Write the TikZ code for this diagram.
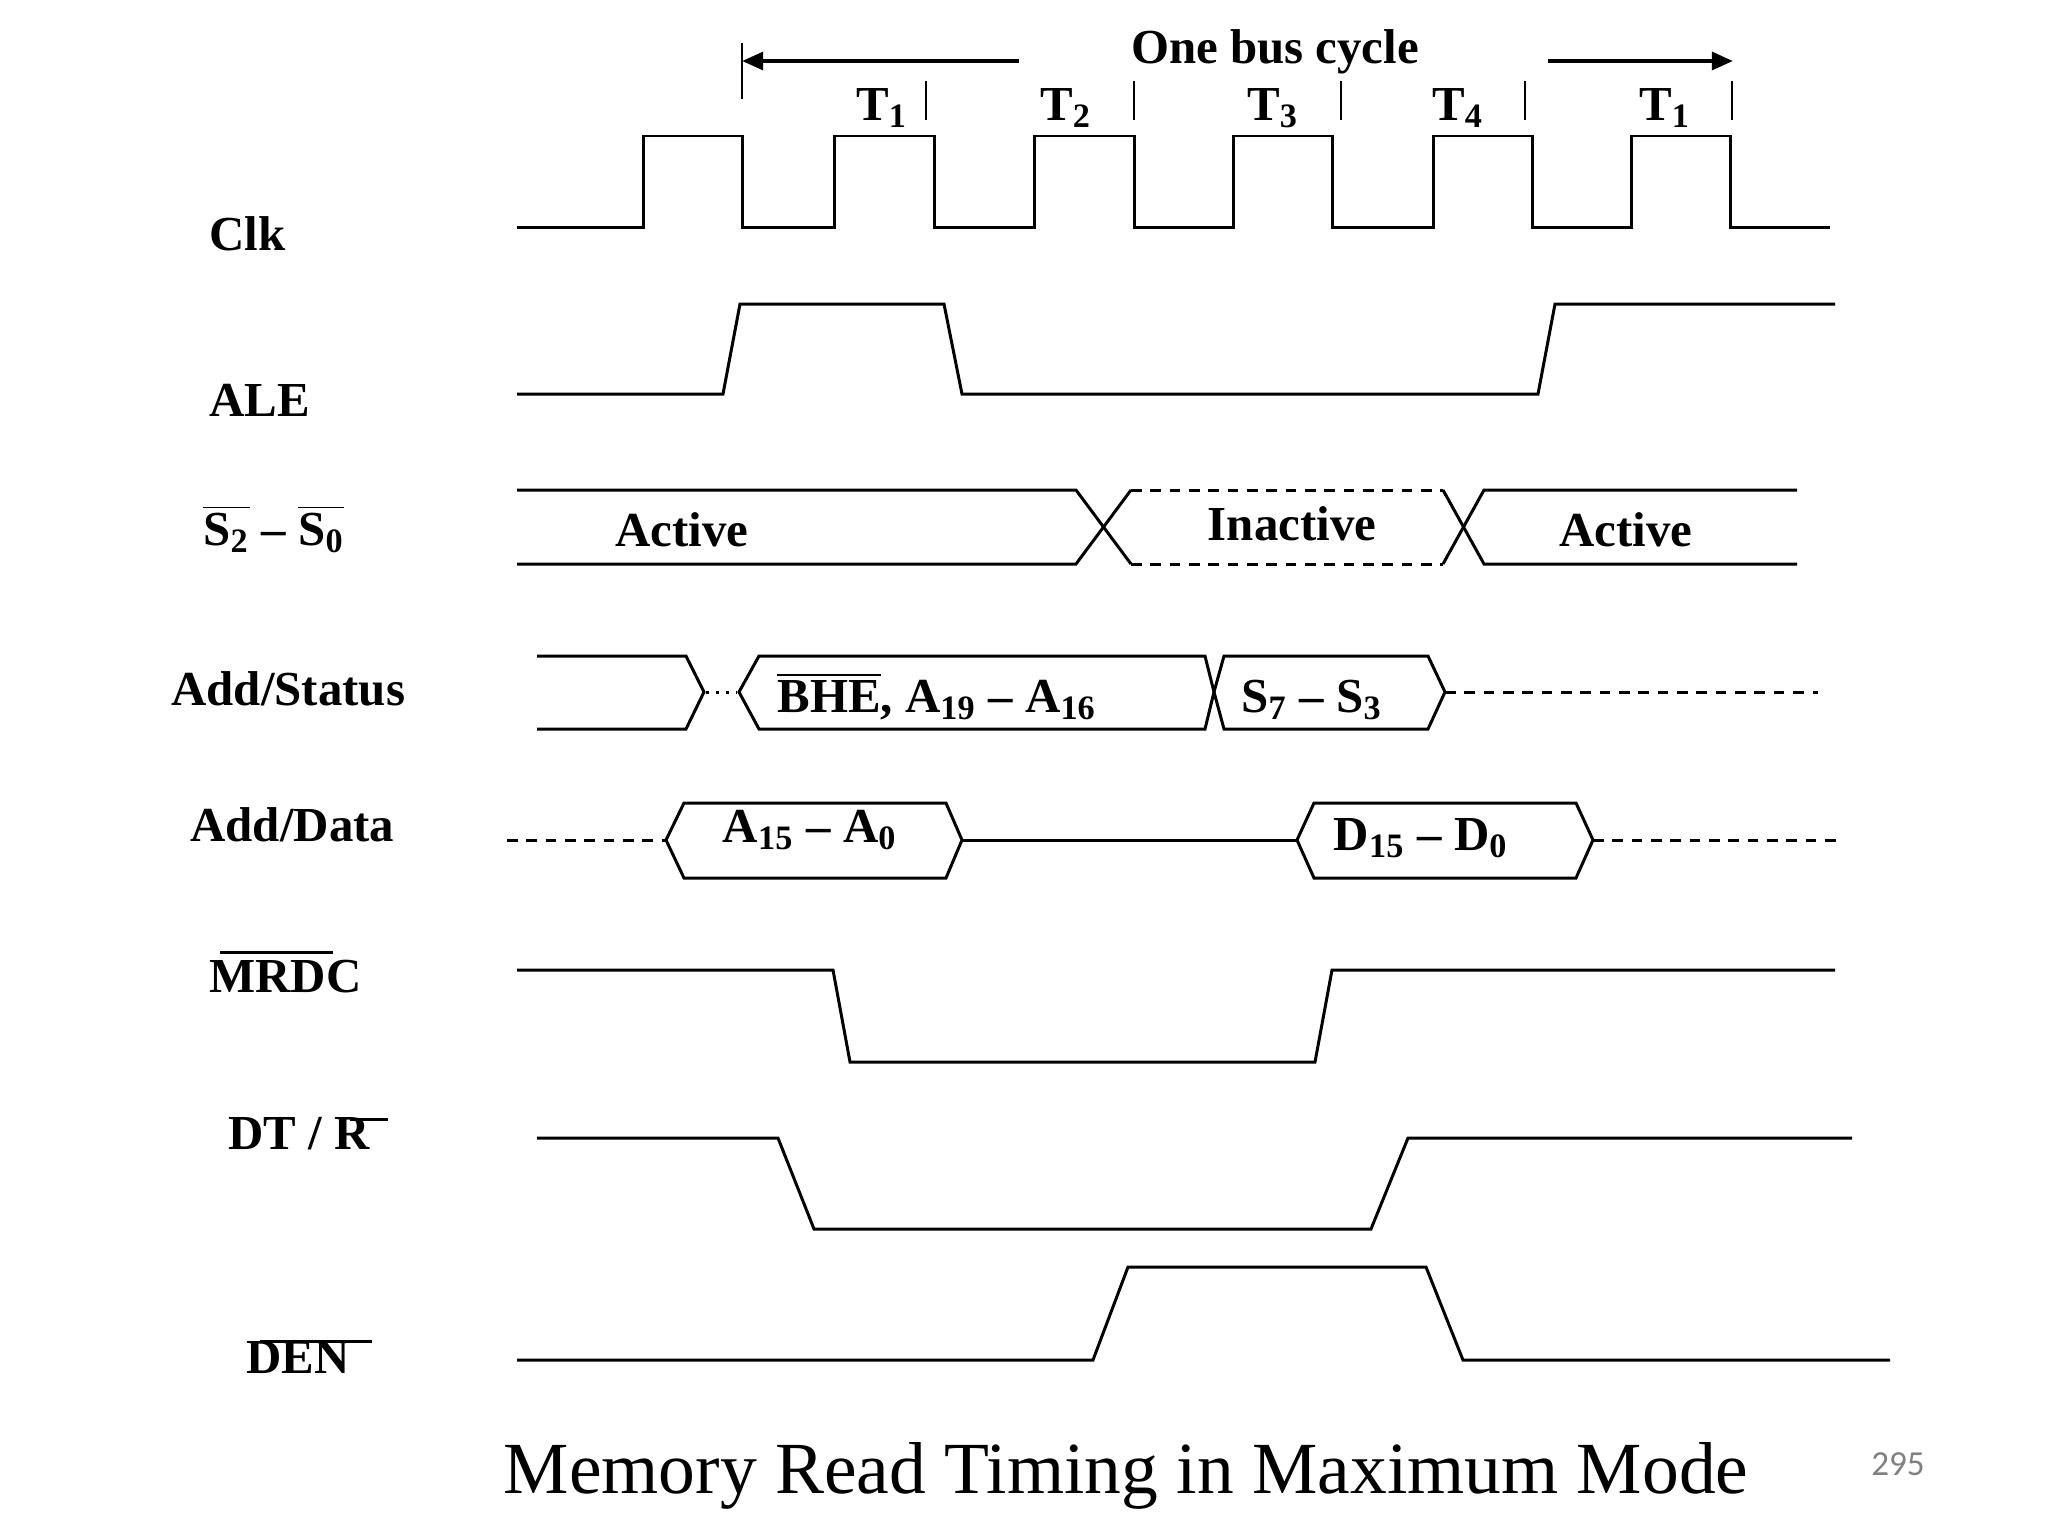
\documentclass[tikz,border=0pt]{standalone}
\usepackage{fontspec}
\setmainfont{Liberation Serif}
\newfontfamily\pagefont{Carlito}
\usetikzlibrary{arrows.meta}
\newcommand{\ovl}[1]{$\overline{\hbox{#1}}$}
\definecolor{pagegray}{RGB}{128,128,128}

\begin{document}
\begin{tikzpicture}[x=0.01cm, y=-0.01cm, line width=0.85pt,
    sig/.style={font=\fontsize{13.9}{16}\selectfont\bfseries, inner sep=0pt, anchor=base west},
    val/.style={font=\fontsize{13.9}{16}\selectfont\bfseries, inner sep=0pt, anchor=base},
    dsh/.style={dash pattern=on 3pt off 2.5pt},
    tick/.style={line width=0.6pt}]
  \useasboundingbox (0,0) rectangle (2048,1536);

  % bus cycle header
  \node[val] (cycle) at (1275,63) {One bus cycle};
  \draw[line width=1.2pt, -{Triangle[length=6pt,width=5pt]}] (1019,61) -- (742,61);
  \draw[line width=1.2pt, -{Triangle[length=6pt,width=5pt]}] (1548,61) -- (1733,61);
  \draw[tick] (742,43) -- (742,99);
  \draw[tick] (926,81) -- (926,120);
  \draw[tick] (1134,81) -- (1134,120);
  \draw[tick] (1341,81) -- (1341,120);
  \draw[tick] (1525,81) -- (1525,120);
  \draw[tick] (1732,81) -- (1732,120);
  \node[val] (t1) at (882,120) {T\textsubscript{1}};
  \node[val] (t2) at (1066,120) {T\textsubscript{2}};
  \node[val] (t3) at (1273,120) {T\textsubscript{3}};
  \node[val] (t4) at (1458,120) {T\textsubscript{4}};
  \node[val] (t5) at (1665,120) {T\textsubscript{1}};

  % signal names
  \node[sig] (clk) at (208,250) {Clk};
  \node[sig] (ale) at (208,416) {ALE};
  \node[sig] (stat) at (202,545) {\ovl{S\textsubscript{2}} -- \ovl{S\textsubscript{0}}};
  \node[sig] (adst) at (170,705) {Add/Status};
  \node[sig] (adda) at (189,841) {Add/Data};
  \node[sig] (mrdc) at (208,992) {MRDC};
  \node[sig] (dtr) at (227,1149) {DT / R};
  \node[sig] (den) at (245,1373) {DEN};
  \draw (220,952) -- (333,952);
  \draw (350,1119) -- (388,1119);
  \draw (260,1341) -- (372,1341);

  % Clk
  \draw (517,227) -- (643,227) -- (643,136) -- (742,136) -- (742,227) -- (834,227)
    -- (834,136) -- (934,136) -- (934,227) -- (1034,227) -- (1034,136) -- (1134,136)
    -- (1134,227) -- (1233,227) -- (1233,136) -- (1332,136) -- (1332,227) -- (1433,227)
    -- (1433,136) -- (1532,136) -- (1532,227) -- (1631,227) -- (1631,136) -- (1730,136)
    -- (1730,227) -- (1830,227);

  % ALE
  \draw (517,394) -- (723,394) -- (740,304) -- (944,304) -- (962,394) -- (1538,394)
    -- (1555,304) -- (1835,304);

  % S2 - S0
  \draw (517,490) -- (1076,490) -- (1131,564);
  \draw (517,564) -- (1076,564) -- (1131,490);
  \draw[dsh] (1131,490) -- (1443,490);
  \draw[dsh] (1131,564) -- (1443,564);
  \draw (1443,490) -- (1484,564) -- (1797,564);
  \draw (1443,564) -- (1484,490) -- (1797,490);
  \node[val] (act1) at (682,546) {Active};
  \node[val] (inact) at (1292,540) {Inactive};
  \node[val] (act2) at (1626,546) {Active};

  % Add/Status
  \draw (537,656) -- (686,656) -- (704,692) -- (686,729) -- (537,729);
  \draw[dotted] (706,692) -- (737,692);
  \draw (739,692) -- (759,656) -- (1205,656) -- (1214,692) -- (1205,729) -- (759,729) -- cycle;
  \draw (1214,692) -- (1224,656) -- (1428,656) -- (1445,692) -- (1428,729) -- (1224,729) -- cycle;
  \draw[dsh] (1445,692) -- (1818,692);
  \node[val] (bhe) at (937,712) {\ovl{BHE}, A\textsubscript{19} -- A\textsubscript{16}};
  \node[val] (s73) at (1312,712) {S\textsubscript{7} -- S\textsubscript{3}};

  % Add/Data
  \draw[dsh] (507,840) -- (666,840);
  \draw (666,840) -- (684,803) -- (946,803) -- (962,840) -- (946,878) -- (684,878) -- cycle;
  \draw (962,840) -- (1297,840);
  \draw (1297,840) -- (1314,803) -- (1576,803) -- (1593,840) -- (1576,878) -- (1314,878) -- cycle;
  \draw[dsh] (1593,840) -- (1836,840);
  \node[val] (addr) at (810,842) {A\textsubscript{15} -- A\textsubscript{0}};
  \node[val] (data) at (1421,850) {D\textsubscript{15} -- D\textsubscript{0}};

  % MRDC
  \draw (517,970) -- (833,970) -- (850,1062) -- (1315,1062) -- (1332,970) -- (1835,970);

  % DT/R
  \draw (537,1138) -- (778,1138) -- (814,1229) -- (1371,1229) -- (1408,1138) -- (1852,1138);

  % DEN
  \draw (517,1360) -- (1093,1360) -- (1128,1267) -- (1426,1267) -- (1463,1360) -- (1890,1360);

  \node[anchor=base] (title) at (1126,1493) {\fontsize{20.9}{24}\selectfont Memory Read Timing in Maximum Mode};
  \node[anchor=base, text=pagegray] (page) at (1898,1475) {\pagefont\fontsize{10}{12}\selectfont 295};
\end{tikzpicture}
\end{document}
